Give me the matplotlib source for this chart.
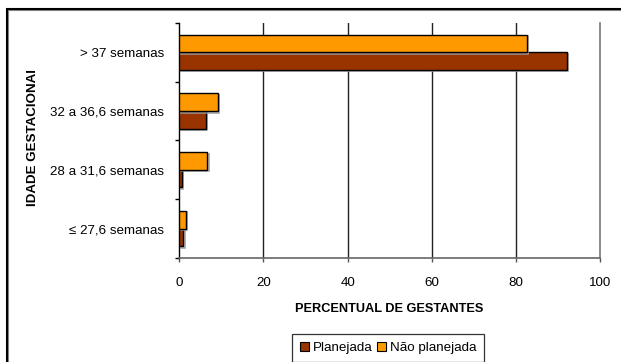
import matplotlib
matplotlib.use("Agg")
import matplotlib.pyplot as plt
import matplotlib.patheffects as pe
from matplotlib.patches import Rectangle
import numpy as np

plt.rcParams['font.family'] = ['Liberation Sans', 'DejaVu Sans']

categories = ["≤ 27,6 semanas", "28 a 31,6 semanas", "32 a 36,6 semanas", "> 37 semanas"]
planejada = [1.0, 0.6, 6.3, 92.1]
nao_planejada = [1.5, 6.7, 9.2, 82.6]
xticks = [0, 20, 40, 60, 80, 100]

col_plan = "#993300"
col_nao = "#FF9900"
fs = 9.6

fig = plt.figure(figsize=(6.21, 3.62), dpi=100)
ax = fig.add_axes([0.2887, 0.2873, 0.6775, 0.6492])

y = np.arange(len(categories))
h = 0.3
shadow = [pe.SimpleLineShadow(offset=(1.0, -1.0), shadow_color="#9a9a9a", alpha=0.9,
                              linewidth=1.2), pe.Normal()]
b1 = ax.barh(y - h / 2, planejada, height=h, color=col_plan, edgecolor="black",
             linewidth=1.0, label="Planejada", zorder=3)
b2 = ax.barh(y + h / 2, nao_planejada, height=h, color=col_nao, edgecolor="black",
             linewidth=1.0, label="Não planejada", zorder=3)
for b in list(b1) + list(b2):
    b.set_path_effects(shadow)

ax.set_xlim(0, 100)
ax.set_ylim(-0.5, len(categories) - 0.5)
ax.set_xticks(xticks)
ax.set_xticklabels([str(v) for v in xticks])
ax.set_yticks(np.arange(-0.5, len(categories), 1.0), minor=False)
ax.set_yticklabels([])
ax.set_yticks(y, minor=True)
ax.set_yticklabels(categories, minor=True)
ax.tick_params(axis='y', which='minor', length=0, pad=11, labelsize=fs)
ax.tick_params(axis='y', which='major', length=3, width=1.0, direction='out')
ax.tick_params(axis='x', length=3, width=1.0, direction='out', pad=11, labelsize=fs,
               color="#555555")

for v in xticks[1:-1]:
    ax.axvline(v, color="#222222", linewidth=1.0, zorder=1)

ax.spines["top"].set_visible(False)
ax.spines["left"].set_color("black")
ax.spines["left"].set_linewidth(1.0)
ax.spines["bottom"].set_color("#666666")
ax.spines["bottom"].set_linewidth(1.2)
ax.spines["right"].set_color("#777777")
ax.spines["right"].set_linewidth(1.2)

ax.set_xlabel("PERCENTUAL DE GESTANTES", fontsize=9.2, fontweight="bold", labelpad=10)
fig.text(33 / 621, 1 - 138 / 362, "IDADE GESTACIONAI", rotation=90, fontsize=fs,
         fontweight="bold", ha="center", va="center")

handles = [Rectangle((0, 0), 1, 1, facecolor=col_plan, edgecolor="black", linewidth=0.8),
           Rectangle((0, 0), 1, 1, facecolor=col_nao, edgecolor="black", linewidth=0.8)]
leg = fig.legend(handles, ["Planejada", "Não planejada"], loc="upper center",
                 bbox_to_anchor=(388 / 621, 1 - 334 / 362), ncol=2, fontsize=fs,
                 frameon=True, fancybox=False, edgecolor="black", handlelength=0.7,
                 handleheight=0.7, handletextpad=0.25, columnspacing=0.35,
                 borderpad=0.6, borderaxespad=0)
leg.get_frame().set_linewidth(0.9)

# outer chart border, open towards the lower right edge
fig.patches.append(Rectangle((8 / 621, -0.05), 1.2, 1 - 10 / 362 + 0.05,
                             transform=fig.transFigure, fill=False, edgecolor="#888888",
                             linewidth=1.5, clip_on=False))
fig.patches.append(Rectangle((7 / 621, -0.05), 1.2, 1 - 9 / 362 + 0.05,
                             transform=fig.transFigure, fill=False, edgecolor="black",
                             linewidth=1.5, clip_on=False))

fig.savefig("out.png", dpi=100)
